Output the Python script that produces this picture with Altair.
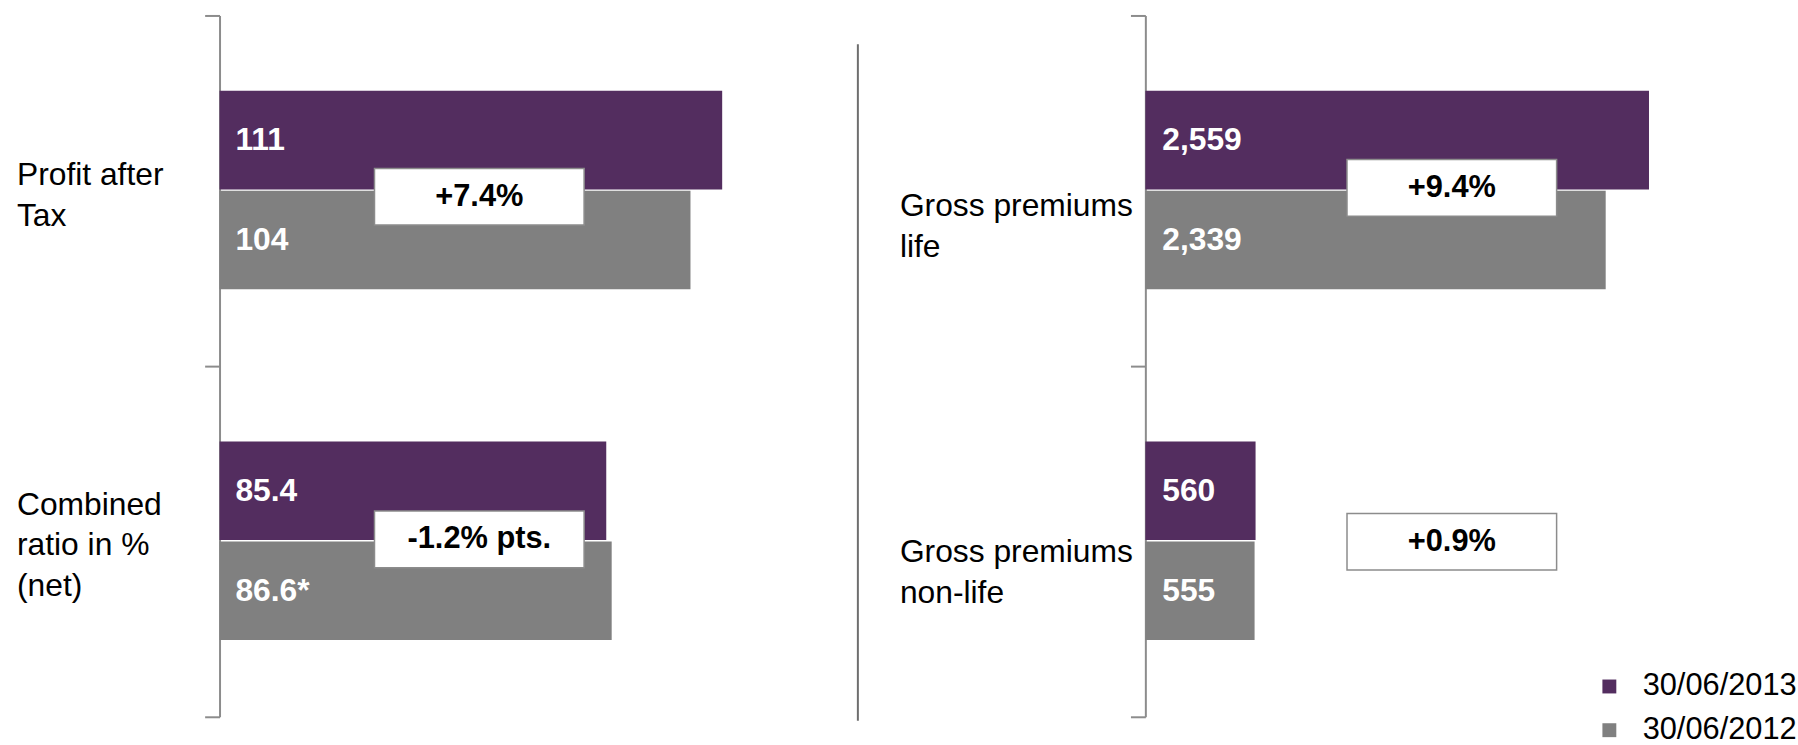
import altair as alt
import pandas as pd

# ---------------- data ----------------
series = ["30/06/2013", "30/06/2012"]

left_label_lines = [["Profit after", "Tax"], ["Combined", "ratio in %", "(net)"]]
left_2013 = [111, 85.4]
left_2012 = [104, 86.6]
left_2013_text = ["111", "85.4"]
left_2012_text = ["104", "86.6*"]
left_change = ["+7.4%", "-1.2% pts."]

right_label_lines = [["Gross premiums", "life"], ["Gross premiums", "non-life"]]
right_2013 = [2559, 560]
right_2012 = [2339, 555]
right_2013_text = ["2,559", "560"]
right_2012_text = ["2,339", "555"]
right_change = ["+9.4%", "+0.9%"]

# ---------------- style ----------------
PURPLE = "#532D5F"
GRAY = "#808080"
AXIS_GRAY = "#8C8C8C"
FONT = "Liberation Sans"
H = 706
ROW_PX = H / 2
BAR_START = [0.215, 0.500]   # fraction of a row where each series' bar starts
BAR_END = [0.496, 0.781]
BOX_HALF = 28.5 / ROW_PX
LEFT_BOX_CENTER = [0.517, 0.494]    # box centre, as fraction of its row
RIGHT_BOX_CENTER = [0.4915, 0.501]
LINE_H = 41
W_LEFT = 642.6
W_RIGHT = 600


def bars_frame(v13, v12, t13, t12):
    rows = []
    for i in range(len(v13)):
        for s, (vals, txts) in enumerate([(v13, t13), (v12, t12)]):
            rows.append({
                "row": i, "series": series[s], "value": vals[i], "text": txts[i],
                "y0": i + BAR_START[s], "y1": i + BAR_END[s],
                "ymid": i + (BAR_START[s] + BAR_END[s]) / 2,
            })
    return pd.DataFrame(rows)


def change_frame(changes, centers):
    return pd.DataFrame({
        "row": list(range(len(changes))),
        "change": changes,
        "yc": [i + centers[i] for i in range(len(changes))],
        "yb0": [i + centers[i] - BOX_HALF for i in range(len(changes))],
        "yb1": [i + centers[i] + BOX_HALF for i in range(len(changes))],
    })


def label_expr(lines):
    expr = "''"
    for i in reversed(range(len(lines))):
        arr = "[" + ",".join("'" + l + "'" for l in lines[i]) + "]"
        expr = f"datum.value == {i} ? {arr} : ({expr})"
    return expr


def label_offsets(lines, centers):
    # first line position so that the block is centred at the given offset
    offs = [c - (len(l) - 1) * LINE_H / 2 for l, c in zip(lines, centers)]
    return {"condition": {"test": "datum.value == 1", "value": offs[1]}, "value": offs[0]}


def panel(lines, v13, v12, t13, t12, changes, box_centers, x_max, width,
          label_padding, centers, box_x0, box_x1, value_dx, separator=False):
    df = bars_frame(v13, v12, t13, t12)
    cf = change_frame(changes, box_centers)
    yscale = alt.Scale(domain=[0, 2], reverse=True, nice=False, zero=False)
    xscale = alt.Scale(domain=[0, x_max], nice=False, zero=True)
    yaxis = alt.Axis(
        values=[0, 1, 2], tickSize=15, tickWidth=2, tickColor=AXIS_GRAY,
        domainColor=AXIS_GRAY, domainWidth=2, grid=False, title=None,
        labelExpr=label_expr(lines), labelAlign="left", labelBaseline="middle",
        labelPadding=label_padding, labelOffset=label_offsets(lines, centers),
        labelFontSize=32, labelFont=FONT, labelColor="black", labelLimit=400,
        labelLineHeight=LINE_H, labelFlush=False, labelOverlap=False, labelBound=False,
    )
    bars = alt.Chart(df).mark_rect().encode(
        x=alt.X("value:Q", scale=xscale, axis=None),
        x2=alt.datum(0),
        y=alt.Y("y0:Q", scale=yscale, axis=yaxis),
        y2="y1:Q",
        color=alt.Color(
            "series:N",
            scale=alt.Scale(domain=series, range=[PURPLE, GRAY]),
            legend=alt.Legend(
                title=None, orient="none", legendX=1383.6, legendY=660,
                symbolType="square", symbolSize=196, symbolStrokeWidth=0,
                symbolOpacity=1, labelFontSize=31, labelFont=FONT, labelLimit=400,
                labelColor="black", labelOffset=18, rowPadding=12, padding=0,
            ),
        ),
    )
    values = alt.Chart(df).mark_text(
        align="left", baseline="middle", dx=value_dx, color="white",
        fontWeight="bold", font=FONT, fontSize=32,
    ).encode(
        x=alt.X(datum=0, scale=xscale, axis=None),
        y=alt.Y("ymid:Q", scale=yscale, axis=yaxis),
        text="text:N",
    )
    boxes = alt.Chart(cf).mark_rect(
        fill="white", stroke=AXIS_GRAY, strokeWidth=1.5
    ).encode(
        x=alt.value(box_x0), x2=alt.value(box_x1),
        y=alt.Y("yb0:Q", scale=yscale, axis=yaxis), y2="yb1:Q",
    )
    box_text = alt.Chart(cf).mark_text(
        align="center", baseline="middle", fontWeight="bold", font=FONT,
        fontSize=31, color="black",
    ).encode(
        x=alt.value((box_x0 + box_x1) / 2),
        y=alt.Y("yc:Q", scale=yscale, axis=yaxis),
        text="change:N",
    )
    layers = [bars, values, boxes, box_text]
    if separator:
        sep = alt.Chart(pd.DataFrame({"k": [0]})).mark_rule(
            color="#6E6E6E", strokeWidth=2
        ).encode(x=alt.value(width), y=alt.value(29), y2=alt.value(710))
        layers.append(sep)
    return alt.layer(*layers).properties(width=width, height=H)


left = panel(left_label_lines, left_2013, left_2012, left_2013_text, left_2012_text,
             left_change, LEFT_BOX_CENTER, x_max=111 * W_LEFT / 506, width=W_LEFT,
             label_padding=189.4, centers=[181, 180], box_x0=156, box_x1=367,
             value_dx=16, separator=True)
right = panel(right_label_lines, right_2013, right_2012, right_2013_text, right_2012_text,
              right_change, RIGHT_BOX_CENTER, x_max=2559 * W_RIGHT / 507, width=W_RIGHT,
              label_padding=232.6, centers=[212, 207], box_x0=203, box_x1=414,
              value_dx=17)

chart = alt.hconcat(left, right, spacing=40).properties(
    padding={"left": 16, "top": 11.5, "right": 0, "bottom": -8},
    background="white",
).configure(font=FONT).configure_view(strokeOpacity=0)

chart.save("out.html", embed_options={"renderer": "svg", "actions": False})
